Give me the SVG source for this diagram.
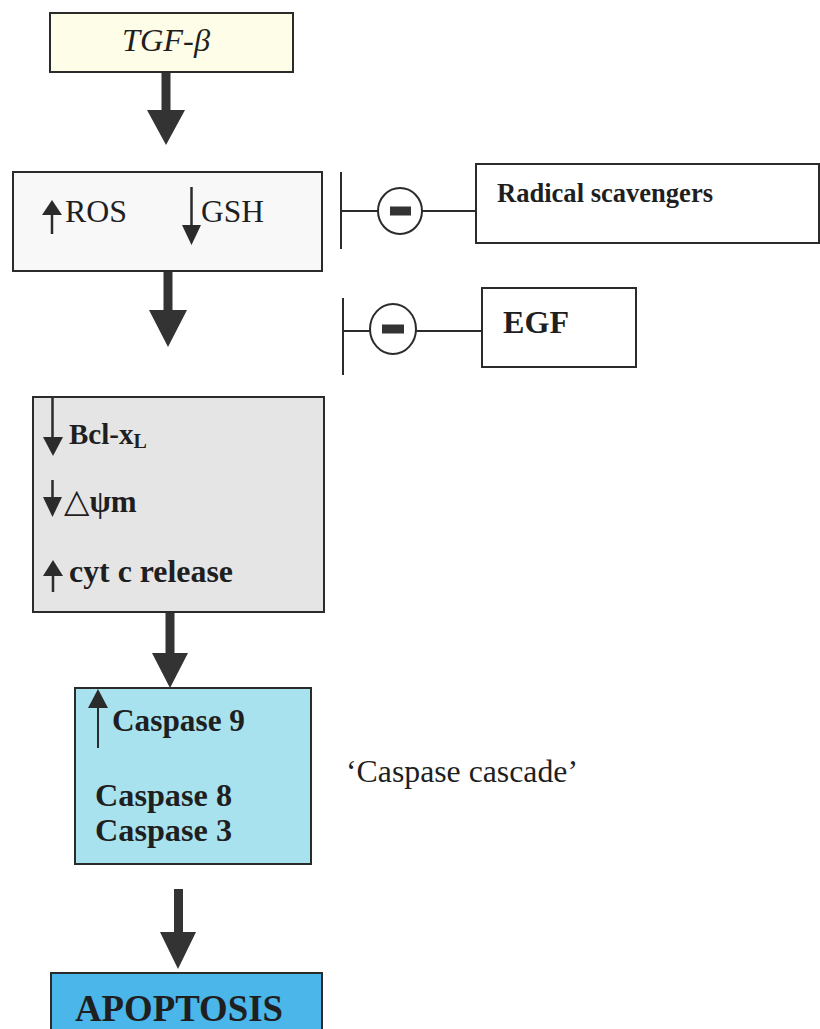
<svg xmlns="http://www.w3.org/2000/svg" width="820" height="1029" viewBox="0 0 820 1029">
  <style>
    .box { stroke: #2b2b2b; stroke-width: 2; }
    .t { font-family: "Liberation Serif", "Times New Roman", serif; fill: #1f1f1f; }
    .sym { font-family: "DejaVu Serif", serif; }
    .b { font-weight: bold; }
    .fat { fill: #333333; }
    .ln { stroke: #2b2b2b; stroke-width: 2; fill: none; }
    .thin { stroke: #2b2b2b; stroke-width: 2.5; fill: none; }
    .head { fill: #2b2b2b; }
  </style>

  <rect width="820" height="1029" fill="#ffffff"/>

  <!-- main flow arrows and inhibition links -->
  <g id="connectors">
    <path class="fat" d="M161.5 72 H170.5 V110 H185 L166 145 L147 110 H161.5 Z"/>
    <path class="fat" d="M163.5 271 H172.5 V310 H187 L168 347 L149 310 H163.5 Z"/>
    <path class="fat" d="M165.5 612 H174.5 V653 H188 L170 688 L152 653 H165.5 Z"/>
    <path class="fat" d="M174 889 H183 V932 H196 L178 969 L160 932 H174 Z"/>

    <!-- radical scavengers inhibit the ROS/GSH step -->
    <g id="inhibit-scavengers">
      <line class="ln" x1="341" y1="172" x2="341" y2="249"/>
      <line class="ln" x1="341" y1="211" x2="378" y2="211"/>
      <ellipse class="ln" cx="400" cy="211" rx="22" ry="23"/>
      <rect x="390" y="206.5" width="21" height="9" fill="#333333"/>
      <line class="ln" x1="422" y1="211" x2="476" y2="211"/>
    </g>

    <!-- EGF inhibits the mitochondrial step -->
    <g id="inhibit-egf">
      <line class="ln" x1="343" y1="298" x2="343" y2="375"/>
      <line class="ln" x1="343" y1="331" x2="370" y2="331"/>
      <ellipse class="ln" cx="393" cy="329" rx="23" ry="25"/>
      <rect x="382" y="324.5" width="22" height="9" fill="#333333"/>
      <line class="ln" x1="416" y1="331" x2="482" y2="331"/>
    </g>
  </g>

  <g id="tgf">
    <rect class="box" x="50" y="13" width="243" height="59" fill="#fdfde8"/>
    <text class="t" x="122" y="51" font-size="31" font-style="italic" textLength="88" lengthAdjust="spacingAndGlyphs">TGF-β</text>
  </g>

  <g id="ros-gsh">
    <rect class="box" x="13" y="172" width="309" height="99" fill="#f8f8f8"/>
    <line class="thin" x1="52" y1="213" x2="52" y2="234"/>
    <polygon class="head" points="42,215 62,215 52,200"/>
    <text class="t" x="65" y="222" font-size="31" textLength="62" lengthAdjust="spacingAndGlyphs">ROS</text>
    <line class="thin" x1="191.5" y1="187" x2="191.5" y2="226"/>
    <polygon class="head" points="182,225 201,225 191.5,245"/>
    <text class="t" x="201" y="222" font-size="31" textLength="63" lengthAdjust="spacingAndGlyphs">GSH</text>
  </g>

  <g id="scavengers">
    <rect class="box" x="476" y="164" width="343" height="79" fill="#ffffff"/>
    <text class="t b" x="497" y="202" font-size="27" textLength="216" lengthAdjust="spacingAndGlyphs">Radical scavengers</text>
  </g>

  <g id="egf">
    <rect class="box" x="482" y="288" width="154" height="79" fill="#ffffff"/>
    <text class="t b" x="503" y="333" font-size="32" textLength="66" lengthAdjust="spacingAndGlyphs">EGF</text>
  </g>

  <g id="mitochondria">
    <rect class="box" x="33" y="397" width="291" height="215" fill="#e5e5e5"/>
    <line class="thin" x1="52.5" y1="397" x2="52.5" y2="438"/>
    <polygon class="head" points="43,437 63,437 53,456"/>
    <text class="t b" x="69" y="444" font-size="29">Bcl-x<tspan font-size="20" dy="4">L</tspan></text>
    <line class="thin" x1="52.5" y1="480" x2="52.5" y2="498"/>
    <polygon class="head" points="43,497 62,497 52.5,517"/>
    <text class="t b" x="64" y="512" font-size="31"><tspan class="sym" font-weight="normal" font-size="33">△</tspan>ψm</text>
    <line class="thin" x1="53" y1="575" x2="53" y2="592"/>
    <polygon class="head" points="43,576 63,576 53,560"/>
    <text class="t b" x="69" y="582" font-size="31" textLength="164" lengthAdjust="spacingAndGlyphs">cyt c release</text>
  </g>

  <g id="caspases">
    <rect class="box" x="75" y="688" width="236" height="176" fill="#a8e2ee"/>
    <line class="ln" x1="98" y1="707" x2="98" y2="748"/>
    <polygon class="head" points="88,708 108,708 98,689"/>
    <text class="t b" x="112" y="731" font-size="32" textLength="133" lengthAdjust="spacingAndGlyphs">Caspase 9</text>
    <text class="t b" x="95" y="806" font-size="32" textLength="137" lengthAdjust="spacingAndGlyphs">Caspase 8</text>
    <text class="t b" x="95" y="841" font-size="32" textLength="137" lengthAdjust="spacingAndGlyphs">Caspase 3</text>
  </g>

  <g id="cascade-label">
    <text class="t" x="346" y="782" font-size="32" textLength="232" lengthAdjust="spacingAndGlyphs">‘Caspase cascade’</text>
  </g>

  <g id="apoptosis">
    <rect class="box" x="51" y="973" width="271" height="70" fill="#4ab6ea"/>
    <text class="t b" x="75" y="1021" font-size="38" fill="#1b2a30" textLength="208" lengthAdjust="spacingAndGlyphs">APOPTOSIS</text>
  </g>
</svg>
